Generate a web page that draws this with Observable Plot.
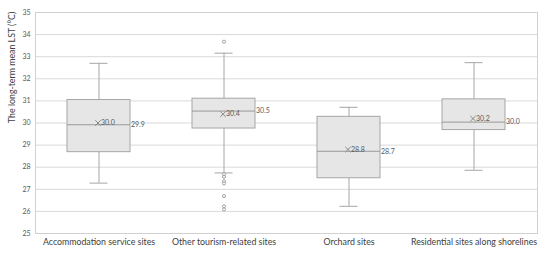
<!DOCTYPE html>
<html>
<head>
<meta charset="utf-8">
<script src="https://cdn.jsdelivr.net/npm/d3@7"></script>
<script src="https://cdn.jsdelivr.net/npm/@observablehq/plot@0.6"></script>
<style>
  html, body { margin: 0; padding: 0; background: #fff; }
  #chart { width: 550px; height: 258px; }
  svg { font-family: Lato, "Open Sans", sans-serif; }
</style>
</head>
<body>
<div id="chart"></div>
<script>
const categories = ["Accommodation service sites", "Other tourism-related sites", "Orchard sites", "Residential sites along shorelines"];
const whiskerLow  = [27.28, 27.74, 26.23, 27.86];
const q1          = [28.68, 29.75, 27.50, 29.68];
const median      = [29.92, 30.54, 28.72, 30.04];
const q3          = [31.04, 31.10, 30.28, 31.07];
const whiskerHigh = [32.70, 33.16, 30.71, 32.73];
const mean        = [30.0, 30.4, 28.8, 30.2];
const medianLabel = ["29.9", "30.5", "28.7", "30.0"];
const meanLabel   = ["30.0", "30.4", "28.8", "30.2"];
const outlierCategory = ["Other tourism-related sites", "Other tourism-related sites", "Other tourism-related sites", "Other tourism-related sites", "Other tourism-related sites", "Other tourism-related sites", "Other tourism-related sites", "Other tourism-related sites"];
const outlierValue    = [33.68, 27.68, 27.56, 27.36, 27.26, 26.69, 26.23, 26.09];
const yTicks = [25, 26, 27, 28, 29, 30, 31, 32, 33, 34, 35];
const yTitle = "The long-term mean LST (°C)";

const boxes = categories.map((c, i) => ({
  cat: c, lo: whiskerLow[i], q1: q1[i], med: median[i], q3: q3[i], hi: whiskerHigh[i],
  mean: mean[i], medLabel: medianLabel[i], meanLabel: meanLabel[i]
}));
const outliers = outlierCategory.map((c, i) => ({cat: c, v: outlierValue[i]}));

const boxStroke = "#a6a6a6";
const chart = Plot.plot({
  width: 550,
  height: 258,
  marginLeft: 35,
  marginRight: 13,
  marginTop: 12,
  marginBottom: 25,
  style: {fontFamily: "Lato, 'Open Sans', sans-serif", background: "#fff"},
  x: {domain: categories, paddingInner: 0.5, paddingOuter: 0.25, label: null, tickSize: 0, tickPadding: 4},
  y: {domain: [25, 35], ticks: yTicks, label: null, tickSize: 0, tickPadding: 5, tickFormat: d3.format("d")},
  marks: [
    Plot.gridY(yTicks, {stroke: "#d9d9d9", strokeOpacity: 1}),
    Plot.frame({stroke: "#d0d0d0"}),
    Plot.axisY(yTicks, {tickSize: 0, tickPadding: 5, fontSize: 7, fill: "#595959", tickFormat: d3.format("d")}),
    Plot.axisX({tickSize: 0, tickPadding: 5, fontSize: 8.8, fill: "#404040"}),
    Plot.ruleX(boxes, {x: "cat", y1: "lo", y2: "q1", stroke: boxStroke}),
    Plot.ruleX(boxes, {x: "cat", y1: "q3", y2: "hi", stroke: boxStroke}),
    Plot.tickY(boxes, {x: "cat", y: "lo", stroke: boxStroke, insetLeft: 22.5, insetRight: 22.5}),
    Plot.tickY(boxes, {x: "cat", y: "hi", stroke: boxStroke, insetLeft: 22.5, insetRight: 22.5}),
    Plot.barY(boxes, {x: "cat", y1: "q1", y2: "q3", fill: "#e6e6e6", stroke: boxStroke}),
    Plot.tickY(boxes, {x: "cat", y: "med", stroke: "#999999"}),
    Plot.dot(boxes, {x: "cat", y: "mean", symbol: "times", r: 2.6, stroke: "#7f7f7f", strokeWidth: 0.9, dx: -1}),
    Plot.text(boxes, {x: "cat", y: "mean", text: "meanLabel", textAnchor: "start", dx: 2, fontSize: 7, fill: "#595959"}),
    Plot.text(boxes, {x: "cat", y: "med", text: "medLabel", textAnchor: "start", dx: 32, fontSize: 7, fill: "#595959"}),
    Plot.dot(outliers, {x: "cat", y: "v", r: 1.5, stroke: "#8c8c8c", fill: "#fff", strokeWidth: 0.8}),
    Plot.text([yTitle], {frameAnchor: "left", text: d => d, rotate: -90, dx: -23, fontSize: 8.8, fill: "#404040"})
  ]
});
document.getElementById("chart").appendChild(chart);
</script>
</body>
</html>
